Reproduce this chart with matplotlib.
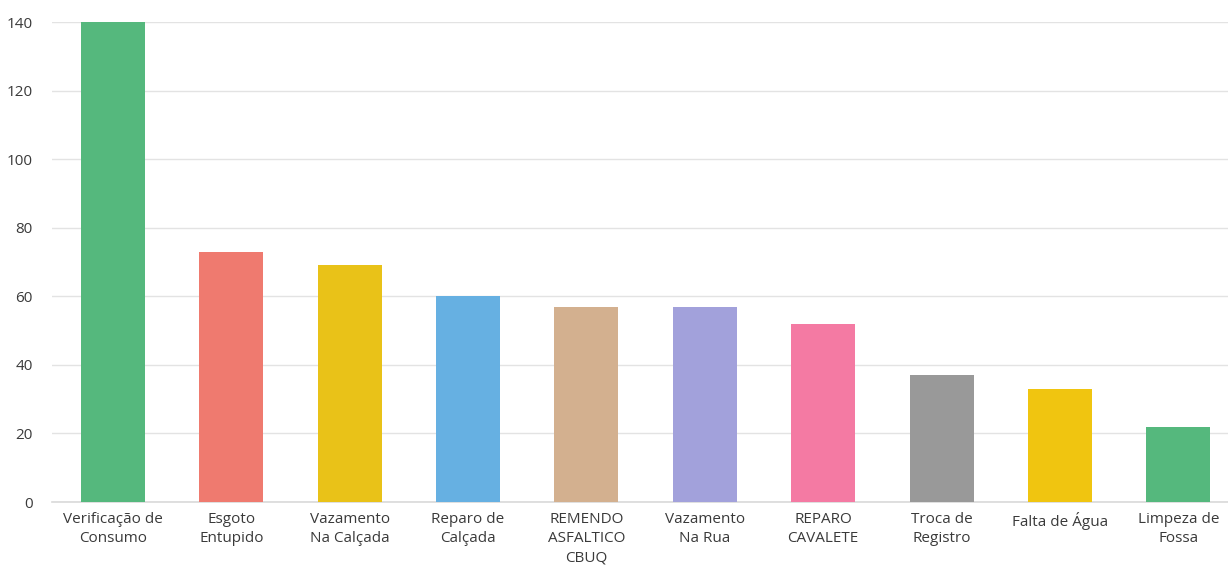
import matplotlib
matplotlib.use("Agg")
import matplotlib.pyplot as plt

# categorias e quantidades
categorias = [
    "Verificação de\nConsumo", "Esgoto\nEntupido", "Vazamento\nNa Calçada",
    "Reparo de\nCalçada", "REMENDO\nASFALTICO\nCBUQ", "Vazamento\nNa Rua",
    "REPARO\nCAVALETE", "Troca de\nRegistro", "Falta de Água", "Limpeza de\nFossa",
]
quantidades = [140, 73, 69, 60, 57, 57, 52, 37, 33, 22]
cores = ["#55b87d", "#ef7a6f", "#e9c218", "#66b0e2", "#d3b08f",
         "#a2a1db", "#f47aa3", "#999999", "#f0c510", "#55b87d"]
y_ticks = [0, 20, 40, 60, 80, 100, 120, 140]

plt.rcParams['font.family'] = ['Open Sans', 'DejaVu Sans']

fig = plt.figure(figsize=(12.28, 5.68), dpi=100)
ax = fig.add_axes([52 / 1228, 1 - 502 / 568, 1 - 52 / 1228, 480 / 568])

x = range(len(categorias))
ax.bar(x, quantidades, width=0.54, color=cores, zorder=3)

ax.set_ylim(0, 140)
ax.set_xlim(-0.515, 9.42)
ax.set_yticks(y_ticks)
ax.set_xticks(list(x))
ax.set_xticklabels(categorias, fontsize=11, color="#3a3a3a", linespacing=1.4)
ax.tick_params(axis="y", labelsize=11, labelcolor="#3a3a3a", length=0, pad=14)
ax.tick_params(axis="x", length=0, pad=7)

ax.grid(axis="y", color="#e3e3e3", linewidth=1, zorder=0)
for s in ["top", "right", "left"]:
    ax.spines[s].set_visible(False)
ax.spines["bottom"].set_color("#d9d9d9")
ax.spines["bottom"].set_linewidth(1.2)

fig.savefig("out.png", dpi=100)
